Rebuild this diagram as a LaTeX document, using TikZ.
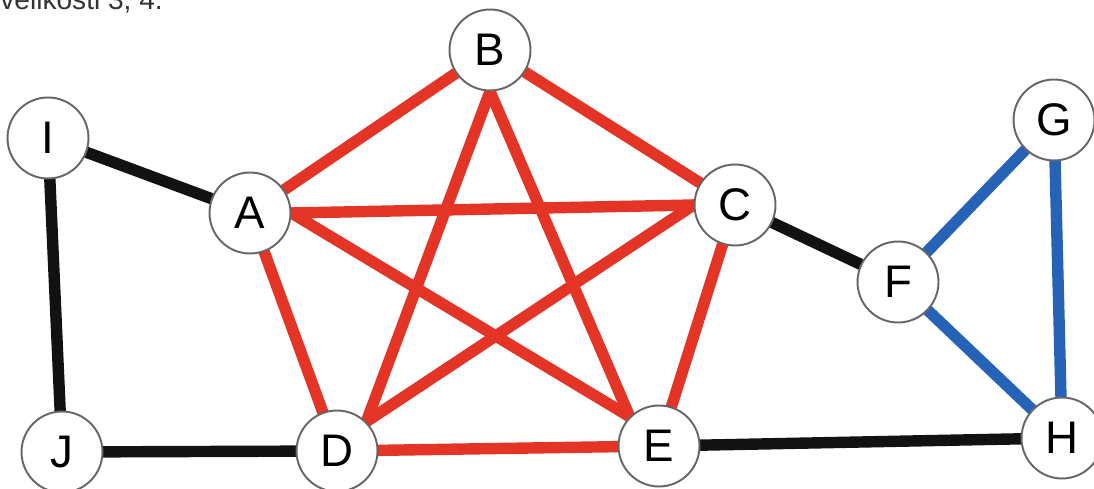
\documentclass[tikz,border=0pt]{standalone}
\usepackage{fontspec}
\setmainfont{Liberation Sans}
\usetikzlibrary{backgrounds}

\definecolor{edgered}{RGB}{228,52,38}
\definecolor{edgeblue}{RGB}{38,98,182}
\definecolor{edgeblack}{RGB}{18,18,18}

\tikzset{
  vertex/.style={circle, draw=gray!80!black, line width=1.1pt, fill=white,
    minimum size=1.62cm, inner sep=0pt, font=\fontsize{26}{26}\selectfont},
  redge/.style={edgered, line width=6.5pt, line cap=round},
  bedge/.style={edgeblue, line width=6.5pt, line cap=round},
  kedge/.style={edgeblack, line width=6.5pt, line cap=round}
}

\begin{document}
\begin{tikzpicture}[x=0.02cm,y=-0.02cm]
  \useasboundingbox (0,0) rectangle (1094,489);
  \clip (0,0) rectangle (1094,489);

  \node[anchor=base west, inner sep=0pt, font=\fontsize{16}{16}\selectfont,
    text=black!80] (title) at (0,10) {velikosti 3, 4.};

  \node[vertex] (B) at (490,50) {B};
  \node[vertex] (I) at (48,138) {I};
  \node[vertex] (A) at (250,213) {A};
  \node[vertex] (C) at (735,205) {C};
  \node[vertex] (G) at (1054,120) {G};
  \node[vertex] (F) at (898,282) {F};
  \node[vertex] (J) at (62,452) {J};
  \node[vertex] (D) at (337,451) {D};
  \node[vertex] (E) at (659,446) {E};
  \node[vertex] (H) at (1062,438) {H};

  \begin{scope}[on background layer]
    % pentagon
    \draw[redge] (A) -- (B);
    \draw[redge] (B) -- (C);
    \draw[redge] (C) -- (E);
    \draw[redge] (E) -- (D);
    \draw[redge] (D) -- (A);
    % star
    \draw[redge] (A.east) -- (C.west);
    \draw[redge] (A.east) -- (E.135);
    \draw[redge] (B.south) -- (D.45);
    \draw[redge] (B.south) -- (E.135);
    \draw[redge] (C.west) -- (D.45);
    % triangle
    \draw[bedge] (F) -- (G);
    \draw[bedge] (G) -- (H);
    \draw[bedge] (H) -- (F);
    % black edges
    \draw[kedge] (I) -- (A);
    \draw[kedge] (I) -- (J);
    \draw[kedge] (J) -- (D);
    \draw[kedge] (C) -- (F);
    \draw[kedge] (E) -- (H);
  \end{scope}
\end{tikzpicture}
\end{document}
